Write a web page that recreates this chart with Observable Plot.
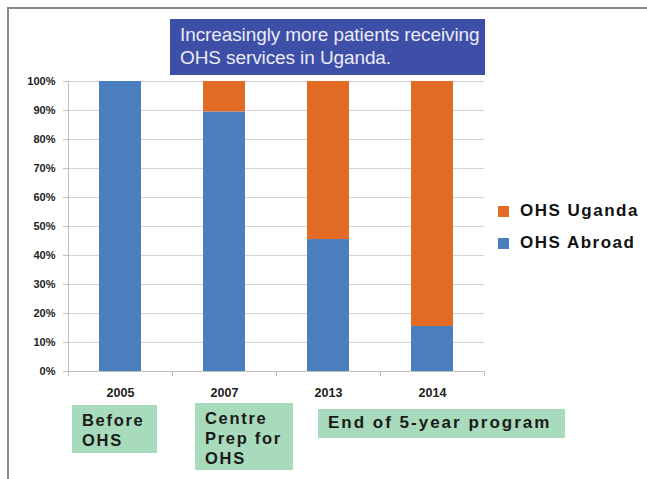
<!DOCTYPE html>
<html>
<head>
<meta charset="utf-8">
<script src="https://cdn.jsdelivr.net/npm/d3@7"></script>
<script src="https://cdn.jsdelivr.net/npm/@observablehq/plot@0.6"></script>
<style>
  html, body { margin: 0; padding: 0; background: #fff; }
  #wrap { position: relative; width: 647px; height: 479px; overflow: hidden; font-family: "Liberation Sans", Arial, sans-serif; }
  #frame { position: absolute; left: 7px; top: 7px; width: 660px; height: 500px; border-top: 2px solid #8a8a8a; border-left: 2px solid #8a8a8a; }
  #chart { position: absolute; left: 0; top: 0; }
  #title { position: absolute; left: 170px; top: 19px; width: 315px; height: 56px; background: #3d4fa6; color: #ecebf7; font-size: 19px; line-height: 23px; padding: 4px 0 0 10px; box-sizing: border-box; letter-spacing: -0.1px; }
  .note { position: absolute; background: #a8dbbb; color: #1a1a1a; font-weight: bold; font-size: 16.5px; line-height: 20px; box-sizing: border-box; padding: 5px 0 0 10px; letter-spacing: 1.7px; white-space: nowrap; }
  .note.big { font-size: 17px; letter-spacing: 2px; padding-top: 4px; }
  #legend { position: absolute; left: 498px; top: 195px; font-weight: bold; font-size: 17px; color: #111; letter-spacing: 1.5px; }
  .li { display: flex; align-items: center; height: 32px; }
  .sw { width: 11px; height: 11px; margin-right: 11px; }
</style>
</head>
<body>
<div id="wrap">
  <div id="frame"></div>
  <div id="chart"></div>
  <div id="title"></div>
  <div id="legend"></div>
</div>
<script>
const years = ["2005", "2007", "2013", "2014"];
const abroad = [1.00, 0.895, 0.455, 0.155];
const uganda = [0.00, 0.105, 0.545, 0.845];
const seriesNames = ["OHS Abroad", "OHS Uganda"];
const seriesColors = ["#4a7ebf", "#e46b25"];
const yTicks = [0, 0.1, 0.2, 0.3, 0.4, 0.5, 0.6, 0.7, 0.8, 0.9, 1.0];
const titleLines = ["Increasingly more patients receiving", "OHS services in Uganda."];
const notes = [
  {text: "Before<br>OHS", left: 72, top: 405, width: 85, height: 48, big: false},
  {text: "Centre<br>Prep for<br>OHS", left: 195, top: 403, width: 98, height: 67, big: false},
  {text: "End of 5-year program", left: 318, top: 409, width: 247, height: 29, big: true}
];

const data = [];
years.forEach((y, i) => {
  data.push({year: y, series: seriesNames[0], value: abroad[i]});
  data.push({year: y, series: seriesNames[1], value: uganda[i]});
});

const W = 647, ML = 68, MR = 163;
const halfStep = (W - ML - MR) / years.length / 2;

const chart = Plot.plot({
  width: W,
  height: 479,
  marginLeft: ML,
  marginRight: MR,
  marginTop: 81,
  marginBottom: 108,
  style: {fontFamily: "'Liberation Sans', Arial, sans-serif", background: "transparent", overflow: "visible"},
  x: {domain: years, paddingInner: 0.6, paddingOuter: 0.3, label: null},
  y: {domain: [0, 1], label: null},
  color: {domain: seriesNames, range: seriesColors},
  marks: [
    Plot.gridY(yTicks, {stroke: "#d4d4d4", strokeOpacity: 1, strokeWidth: 1}),
    Plot.barY(data, Plot.stackY({x: "year", y: "value", fill: "series", order: seriesNames})),
    Plot.axisY({ticks: yTicks, tickFormat: d => Math.round(d * 100) + "%", tickSize: 5, tickPadding: 8, stroke: "#bdbdbd", fill: "#222", fontWeight: "bold", fontSize: 11, label: null}),
    Plot.ruleX([years[0]], {x: d => d, dx: -halfStep, y1: 0, y2: 1, stroke: "#bdbdbd"}),
    Plot.ruleY([0], {stroke: "#bdbdbd"}),
    Plot.ruleX(years, {x: d => d, dx: -halfStep, y1: 0, y2: 0, insetBottom: -5, stroke: "#bdbdbd"}),
    Plot.ruleX([years[years.length - 1]], {x: d => d, dx: halfStep, y1: 0, y2: 0, insetBottom: -5, stroke: "#bdbdbd"}),
    Plot.axisX({tickSize: 0, tickPadding: 17, fill: "#222", fontWeight: "bold", fontSize: 12.5, label: null})
  ]
});
document.getElementById("chart").appendChild(chart);

document.getElementById("title").innerHTML = titleLines.join("<br>");

const wrap = document.getElementById("wrap");
notes.forEach(n => {
  const d = document.createElement("div");
  d.className = n.big ? "note big" : "note";
  d.style.left = n.left + "px"; d.style.top = n.top + "px";
  d.style.width = n.width + "px"; d.style.height = n.height + "px";
  d.innerHTML = n.text;
  wrap.appendChild(d);
});

const legend = document.getElementById("legend");
[1, 0].forEach(i => {
  const row = document.createElement("div");
  row.className = "li";
  row.innerHTML = `<div class="sw" style="background:${seriesColors[i]}"></div><span>${seriesNames[i]}</span>`;
  legend.appendChild(row);
});
</script>
</body>
</html>
